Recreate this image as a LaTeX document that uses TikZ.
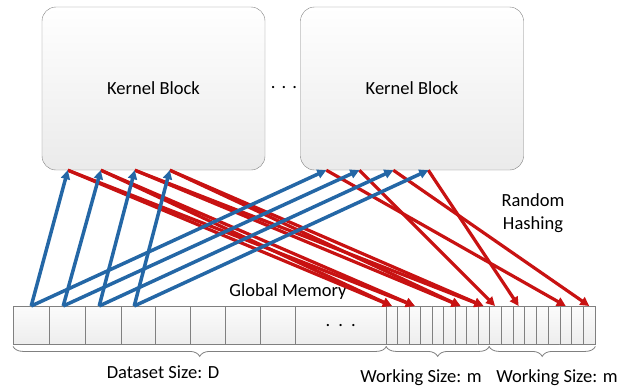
\documentclass[tikz,border=0pt]{standalone}
\usepackage{fontspec}
\setmainfont{Carlito}
\usetikzlibrary{positioning,arrows.meta,decorations.pathreplacing}
\definecolor{blueline}{RGB}{36,103,166}
\definecolor{redline}{RGB}{200,18,18}

\begin{document}
\begin{tikzpicture}[x=1pt,y=-1pt,on grid,
    font=\fontsize{18.5}{22.5}\selectfont,
    block/.style={draw=gray,rounded corners=14pt,top color=white,bottom color=gray!16,
      minimum width=223pt,minimum height=163pt},
    cell/.style={draw=gray,top color=gray!3,bottom color=gray!14,minimum height=38pt,
      inner sep=0pt,anchor=north west},
    load/.style={-{Triangle[length=9pt,width=9pt]},line width=3.5pt,blueline},
    hash/.style={-{Triangle[length=9pt,width=9pt]},line width=3.2pt,redline},
    brace/.style={decorate,decoration={brace,mirror,amplitude=10pt},draw=gray,line width=0.8pt}]
   \useasboundingbox (0,0) rectangle (632,391);

   \node [block] (k1) at (153.5,88.5) {Kernel Block};
   \node [block, right=258.5pt of k1] (k2) {Kernel Block};
   \node (kdots) at (284,88) {.\,\,.\,\,.};

   \foreach \n/\x/\w in {1/13/36pt,2/49/36pt,3/85/36pt,4/121/34pt,5/155/35pt,
                         6/190/35pt,7/225/35pt,8/260/35pt}
     \node [cell, minimum width=\w] (d\n) at (\x,306) {};
   \node [cell, minimum width=91pt] (d9) at (295,306) {.\hspace{8pt}.\hspace{8pt}.};
   \foreach \i in {1,...,9} {
     \node [cell, minimum width=11.44pt] (w\i) at ({386+(\i-1)*11.44},306) {};
     \node [cell, minimum width=11.78pt] (v\i) at ({489+(\i-1)*11.78},306) {};
   }

   \foreach \i/\dx in {1/26pt,2/59pt,3/93pt,4/128pt} {
     \coordinate (a\i) at ([xshift=\dx]k1.south west);
     \coordinate (b\i) at ([xshift=\dx]k2.south west);
   }
   \foreach \i/\dx in {1/0pt,2/-4pt,3/-4pt,4/-4pt}
     \coordinate (s\i) at ([xshift=\dx]d\i.north);

   \node (glob) at (288,292) {Global Memory};
   \node [align=center] (hashing) at (533,213) {Random\\Hashing};

    \path[hash]
    (a1) edge (w1.north)
         edge (w3.north)
    (a2) edge (w1.north)
         edge (w3.north)
    (a3) edge (w7.north)
         edge (w9.north)
    (a4) edge (w7.north)
         edge (w9.north)
    (b1) edge (v7.north)
    (b2) edge (v1.north)
    (b3) edge (v9.north)
    (b4) edge (v3.north);
    \path[load]
    (s1) edge (a1)
         edge (b1)
    (s2) edge (a2)
         edge (b2)
    (s3) edge (a3)
         edge (b3)
    (s4) edge (a4)
         edge (b4);

   \draw [brace] ([yshift=-2pt]d1.south west) -- ([yshift=-2pt]d9.south east);
   \draw [brace] ([yshift=-2pt]w1.south west) -- ([yshift=-2pt]w9.south east);
   \draw [brace] ([yshift=-2pt]v1.south west) -- ([yshift=-2pt]v9.south east);
   \node (dsize) at (163,372) {Dataset Size: D};
   \node (wsize1) at (421,378) {Working Size: m};
   \node (wsize2) at (557,378) {Working Size: m};
\end{tikzpicture}
\end{document}
